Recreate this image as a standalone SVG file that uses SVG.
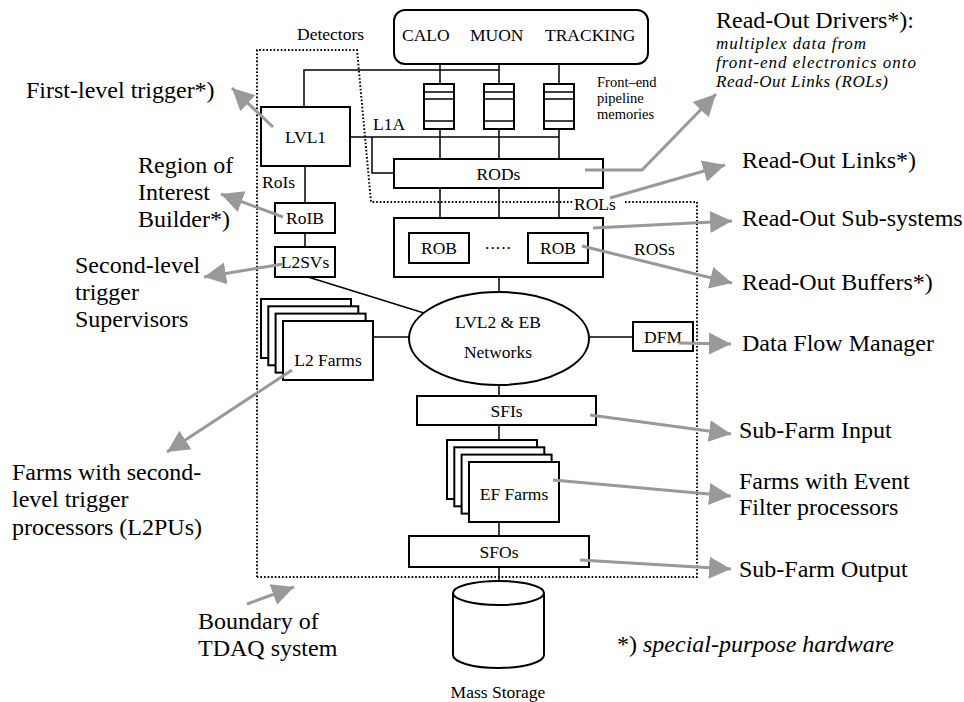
<svg xmlns="http://www.w3.org/2000/svg" width="964" height="702" viewBox="0 0 964 702">
<style>
.bx{fill:#fff;stroke:#000;stroke-width:2}
.ln{stroke:#000;stroke-width:1.5;fill:none}
.dot{stroke:#000;stroke-width:2;stroke-dasharray:1.6 2;fill:none}
.ga{stroke:#999;stroke-width:3;fill:none;marker-end:url(#ah)}
text{font-family:"Liberation Serif","Times New Roman",serif;font-size:17.5px;fill:#000}
.m{text-anchor:middle}
.L{font-size:24px}
.it{font-style:italic}
.sm{font-size:14.5px}
.ri{font-size:17px;font-style:italic}
</style>
<defs>
<marker id="ah" markerUnits="userSpaceOnUse" markerWidth="24" markerHeight="24" viewBox="0 0 24 24" refX="22" refY="12" orient="auto">
<path d="M0,1 L22,12 L0,23 z" fill="#999"/>
</marker>
</defs>
<rect width="964" height="702" fill="#fff"/>

<g id="boundary">
<path class="dot" d="M257,577 L257,50 L357,50 L371,202 L573,202"/>
<path class="dot" d="M625,202 L697,202 L697,577 L257,577"/>
<text x="297" y="40">Detectors</text>
<text x="574" y="210">ROLs</text>
<text x="634" y="255">ROSs</text>
</g>

<g id="connectors">
<path class="ln" d="M304,107 L304,70 L499,70"/>
<path class="ln" d="M440,64 L440,84 M499,64 L499,84 M559,64 L559,84"/>
<path class="ln" d="M350,137 L559,137"/>
<path class="ln" d="M440,129 L440,159 M499,129 L499,159 M559,129 L559,159"/>
<path class="ln" d="M372,137 L372,173 L394,173"/>
<path class="ln" d="M440,188 L440,218 M499,188 L499,218 M559,188 L559,218"/>
<path class="ln" d="M499,277 L499,292"/>
<path class="ln" d="M305,166 L305,203 M305,233 L305,247"/>
<path class="ln" d="M308,277 L424,313"/>
<path class="ln" d="M373,337 L409,337 M589,337 L633,337"/>
<path class="ln" d="M499,385 L499,396 M499,425 L499,440 M499,522 L499,536 M499,567 L499,581"/>
<text x="373" y="130">L1A</text>
<text x="262" y="188">RoIs</text>
</g>

<g id="detectors">
<rect class="bx" x="394" y="10" width="254" height="54" rx="11"/>
<text x="402" y="41">CALO</text>
<text x="470" y="41">MUON</text>
<text x="545" y="41">TRACKING</text>
</g>

<g id="pipelines">
<g id="pipe1"><rect class="bx" x="424" y="84" width="30" height="45"/><path class="ln" d="M424,92 H454 M424,99 H454 M424,121 H454" stroke-width="2"/></g>
<g id="pipe2"><rect class="bx" x="484" y="84" width="30" height="45"/><path class="ln" d="M484,92 H514 M484,99 H514 M484,121 H514" stroke-width="2"/></g>
<g id="pipe3"><rect class="bx" x="544" y="84" width="30" height="45"/><path class="ln" d="M544,92 H574 M544,99 H574 M544,121 H574" stroke-width="2"/></g>
<text class="sm" x="597" y="87">Front–end</text>
<text class="sm" x="597" y="103.2">pipeline</text>
<text class="sm" x="597" y="119.4">memories</text>
</g>

<g id="lvl1"><rect class="bx" x="261" y="107" width="89" height="59"/><text class="m" x="305.5" y="143">LVL1</text></g>
<g id="rods"><rect class="bx" x="394" y="159" width="209" height="29"/><text class="m" x="498.5" y="180">RODs</text></g>
<g id="ros">
<rect class="bx" x="394" y="218" width="209" height="59"/>
<rect class="bx" x="409" y="233" width="60" height="30"/><text class="m" x="439" y="254">ROB</text>
<text class="m" x="498.5" y="249" letter-spacing="1">.....</text>
<rect class="bx" x="528" y="233" width="60" height="30"/><text class="m" x="558" y="254">ROB</text>
</g>
<g id="roib"><rect class="bx" x="275" y="203" width="60" height="30" stroke-width="2.5"/><text class="m" x="305" y="224">RoIB</text></g>
<g id="l2svs"><rect class="bx" x="275" y="247" width="60" height="30" stroke-width="2.5"/><text class="m" x="305" y="268">L2SVs</text></g>
<g id="network"><ellipse class="bx" cx="499" cy="338.5" rx="90" ry="46.5"/><text class="m" x="498" y="328">LVL2 &amp; EB</text><text class="m" x="498" y="358">Networks</text></g>
<g id="l2farms">
<rect class="bx" x="261" y="299" width="90" height="59" stroke-width="2.5"/>
<rect class="bx" x="268.3" y="306.3" width="90" height="59" stroke-width="2.5"/>
<rect class="bx" x="275.6" y="313.6" width="90" height="59" stroke-width="2.5"/>
<rect class="bx" x="283" y="321" width="90" height="59" stroke-width="2.5"/>
<text class="m" x="328" y="366">L2 Farms</text>
</g>
<g id="dfm"><rect class="bx" x="633" y="322" width="60" height="29"/><text class="m" x="663" y="342.5">DFM</text></g>
<g id="sfis"><rect class="bx" x="417" y="396" width="179" height="29"/><text class="m" x="506.5" y="417">SFIs</text></g>
<g id="effarms">
<rect class="bx" x="447" y="440" width="90" height="59" stroke-width="2.5"/>
<rect class="bx" x="454.3" y="447.3" width="90" height="59" stroke-width="2.5"/>
<rect class="bx" x="461.6" y="454.6" width="90" height="59" stroke-width="2.5"/>
<rect class="bx" x="469" y="462" width="90" height="60" stroke-width="2.5"/>
<text class="m" x="514" y="500">EF Farms</text>
</g>
<g id="sfos"><rect class="bx" x="409" y="536" width="180" height="31"/><text class="m" x="499" y="558">SFOs</text></g>
<g id="storage">
<path class="bx" d="M453,593 L453,655 A45.5,13 0 0 0 544,655 L544,593"/>
<ellipse class="bx" cx="498.5" cy="593" rx="45.5" ry="12"/>
<text class="m" x="498" y="698">Mass Storage</text>
</g>

<g id="labels">
<text class="L" x="26" y="98">First-level trigger*)</text>
<text class="L" x="138" y="173">Region of<tspan x="138" y="200">Interest</tspan><tspan x="138" y="227">Builder*)</tspan></text>
<text class="L" x="75" y="273">Second-level<tspan x="75" y="300">trigger</tspan><tspan x="75" y="327">Supervisors</tspan></text>
<text class="L" x="12" y="480">Farms with second-<tspan x="12" y="507">level trigger</tspan><tspan x="12" y="535">processors (L2PUs)</tspan></text>
<text class="L" x="198" y="629">Boundary of<tspan x="198" y="656">TDAQ system</tspan></text>
<text class="L" x="716" y="28">Read-Out Drivers*):</text>
<text class="ri" x="716" y="49" textLength="150">multiplex data from</text>
<text class="ri" x="716" y="68" textLength="200">front-end electronics onto</text>
<text class="ri" x="716" y="87" textLength="172">Read-Out Links (ROLs)</text>
<text class="L" x="742" y="168">Read-Out Links*)</text>
<text class="L" x="742" y="226">Read-Out Sub-systems</text>
<text class="L" x="742" y="290">Read-Out Buffers*)</text>
<text class="L" x="742" y="351">Data Flow Manager</text>
<text class="L" x="739" y="438">Sub-Farm Input</text>
<text class="L" x="739" y="489">Farms with Event<tspan x="739" y="515">Filter processors</tspan></text>
<text class="L" x="739" y="577">Sub-Farm Output</text>
<text class="L" x="617" y="652">*) <tspan class="it">special-purpose hardware</tspan></text>
</g>

<g id="callouts">
<path class="ga" d="M273,127 L232,88"/>
<path class="ga" d="M283,217 L221,194"/>
<path class="ga" d="M283,264 L204,277"/>
<path class="ga" d="M292,370 L167,452"/>
<path class="ga" d="M247,604 L294,587"/>
<path class="ga" d="M585,170 L642,170 L716,94"/>
<path class="ga" d="M610,198 L725,165"/>
<path class="ga" d="M593,228 L732,221"/>
<path class="ga" d="M582,246 L732,283"/>
<path class="ga" d="M679,343 L731,344"/>
<path class="ga" d="M590,415 L731,434"/>
<path class="ga" d="M553,480 L731,496"/>
<path class="ga" d="M580,560 L731,569"/>
</g>
</svg>
